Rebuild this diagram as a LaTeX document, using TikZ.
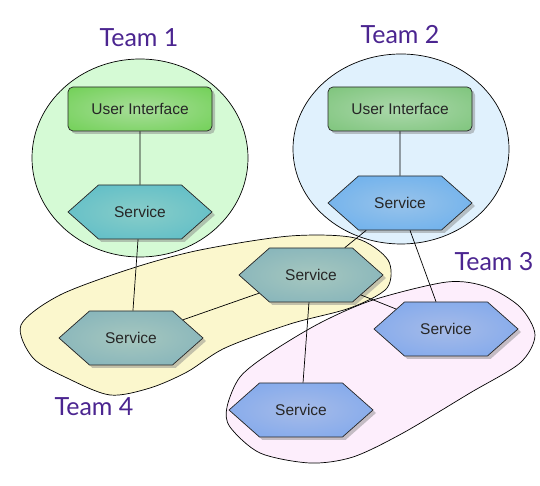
\documentclass[tikz,border=0pt]{standalone}
\usepackage{fontspec}
\setmainfont{Liberation Sans}
\newfontfamily\teamfont{Lato}
\usetikzlibrary{shapes.symbols,shadows,positioning}

\definecolor{teamtext}{HTML}{4B2590}
\definecolor{zone1}{HTML}{D5FAD5}
\definecolor{zone2}{HTML}{E0F1FD}
\definecolor{zone3}{HTML}{FDEEFC}
\definecolor{zone4}{HTML}{FBF7CD}
% inner / outer colours of the glowing boxes
\definecolor{uiAin}{HTML}{A8DE9A}  \definecolor{uiAout}{HTML}{5CCB3C}
\definecolor{uiBin}{HTML}{ACD8AC}  \definecolor{uiBout}{HTML}{6CBD69}
\definecolor{svAin}{HTML}{88CDC9}  \definecolor{svAout}{HTML}{48B5C6}
\definecolor{svBin}{HTML}{98C3EA}  \definecolor{svBout}{HTML}{55A6EE}
\definecolor{svCin}{HTML}{A6C7BF}  \definecolor{svCout}{HTML}{72A9B8}
\definecolor{svDin}{HTML}{A6BBE8}  \definecolor{svDout}{HTML}{6C9EEF}
\colorlet{glowin}{white}
\colorlet{glowout}{gray}
\pgfdeclareradialshading[glowin,glowout]{glow}{\pgfpoint{0bp}{0bp}}{color(0bp)=(glowin); color(50bp)=(glowout); color(75bp)=(glowout)}

\begin{document}
\begin{tikzpicture}[x=1pt, y=1pt, node distance=100pt,
  box/.style={draw=black!85, line width=0.7pt, shade, shading=glow, text=black!85,
    drop shadow={opacity=.45, shadow xshift=3pt, shadow yshift=-3pt},
    font=\fontsize{15.5}{18}\selectfont},
  ui/.style={box, rectangle, rounded corners=5pt, minimum width=144pt, minimum height=44pt},
  service/.style={box, signal, signal to=east and west, signal pointer angle=83,
    minimum width=144pt, minimum height=54pt},
  tint/.style 2 args={/utils/exec={\colorlet{glowin}{#1}\colorlet{glowout}{#2}}},
  team/.style={text=teamtext, font=\teamfont\fontsize{25}{30}\selectfont},
  zone/.style={draw=black, line width=0.7pt},
  link/.style={draw=black, line width=0.7pt}]
\useasboundingbox (0,0) rectangle (540,486);

% team areas
\draw[zone, fill=zone1] (140,328) ellipse (108pt and 99pt);
\draw[zone, fill=zone2] (401,337) ellipse (108pt and 95pt);
\draw[zone, fill=zone4] plot[smooth cycle] coordinates {(21,161) (60,191) (133,218) (200,236)
  (290,250) (355,248) (388,226) (387,198) (350,178) (290,162) (225,138) (187,114)
  (150,98) (110,91) (67,108) (33,128)};
\draw[zone, fill=zone3] plot[smooth cycle] coordinates {(227,79) (240,109) (270,133) (320,163)
  (373,186) (447,204) (487,199) (520,179) (535,151) (520,123) (470,93) (403,53)
  (353,29) (310,23) (260,33) (230,59)};

\node[ui, tint={uiAin}{uiAout}] at (140,377) (ui1) {User Interface};
\node[service, tint={svAin}{svAout}, below of=ui1, yshift=-3pt] (s1) {Service};
\node[ui, tint={uiBin}{uiBout}, right of=ui1, xshift=160pt] (ui2) {User Interface};
\node[service, tint={svBin}{svBout}, below of=ui2, yshift=6pt] (s2) {Service};
\node[service, tint={svCin}{svCout}, below of=s2, xshift=-89pt, yshift=28pt] (sa) {Service};
\node[service, tint={svCin}{svCout}, below of=s1, xshift=-9pt, yshift=-26pt] (sb) {Service};
\node[service, tint={svDin}{svDout}, right of=sa, xshift=35pt, yshift=-54pt] (sc) {Service};
\node[service, tint={svDin}{svDout}, below of=sa, xshift=-10pt, yshift=-35pt] (sd) {Service};

\node[team, above of=ui1, xshift=-1pt, yshift=-29pt] (t1) {Team 1};
\node[team, above of=ui2, yshift=-26pt] (t2) {Team 2};
\node[team, right of=sc, xshift=-52pt, yshift=67pt] (t3) {Team 3};
\node[team, below of=sb, xshift=-37pt, yshift=31pt] (t4) {Team 4};

\draw[link] (ui1) -- (s1);
\draw[link] (ui2) -- (s2);
\draw[link] (s1) -- (sb);
\draw[link] (sb) -- (sa);
\draw[link] (s2) -- (sa);
\draw[link] (s2) -- (sc);
\draw[link] (sa) -- (sc);
\draw[link] (sa) -- (sd);
\end{tikzpicture}
\end{document}
